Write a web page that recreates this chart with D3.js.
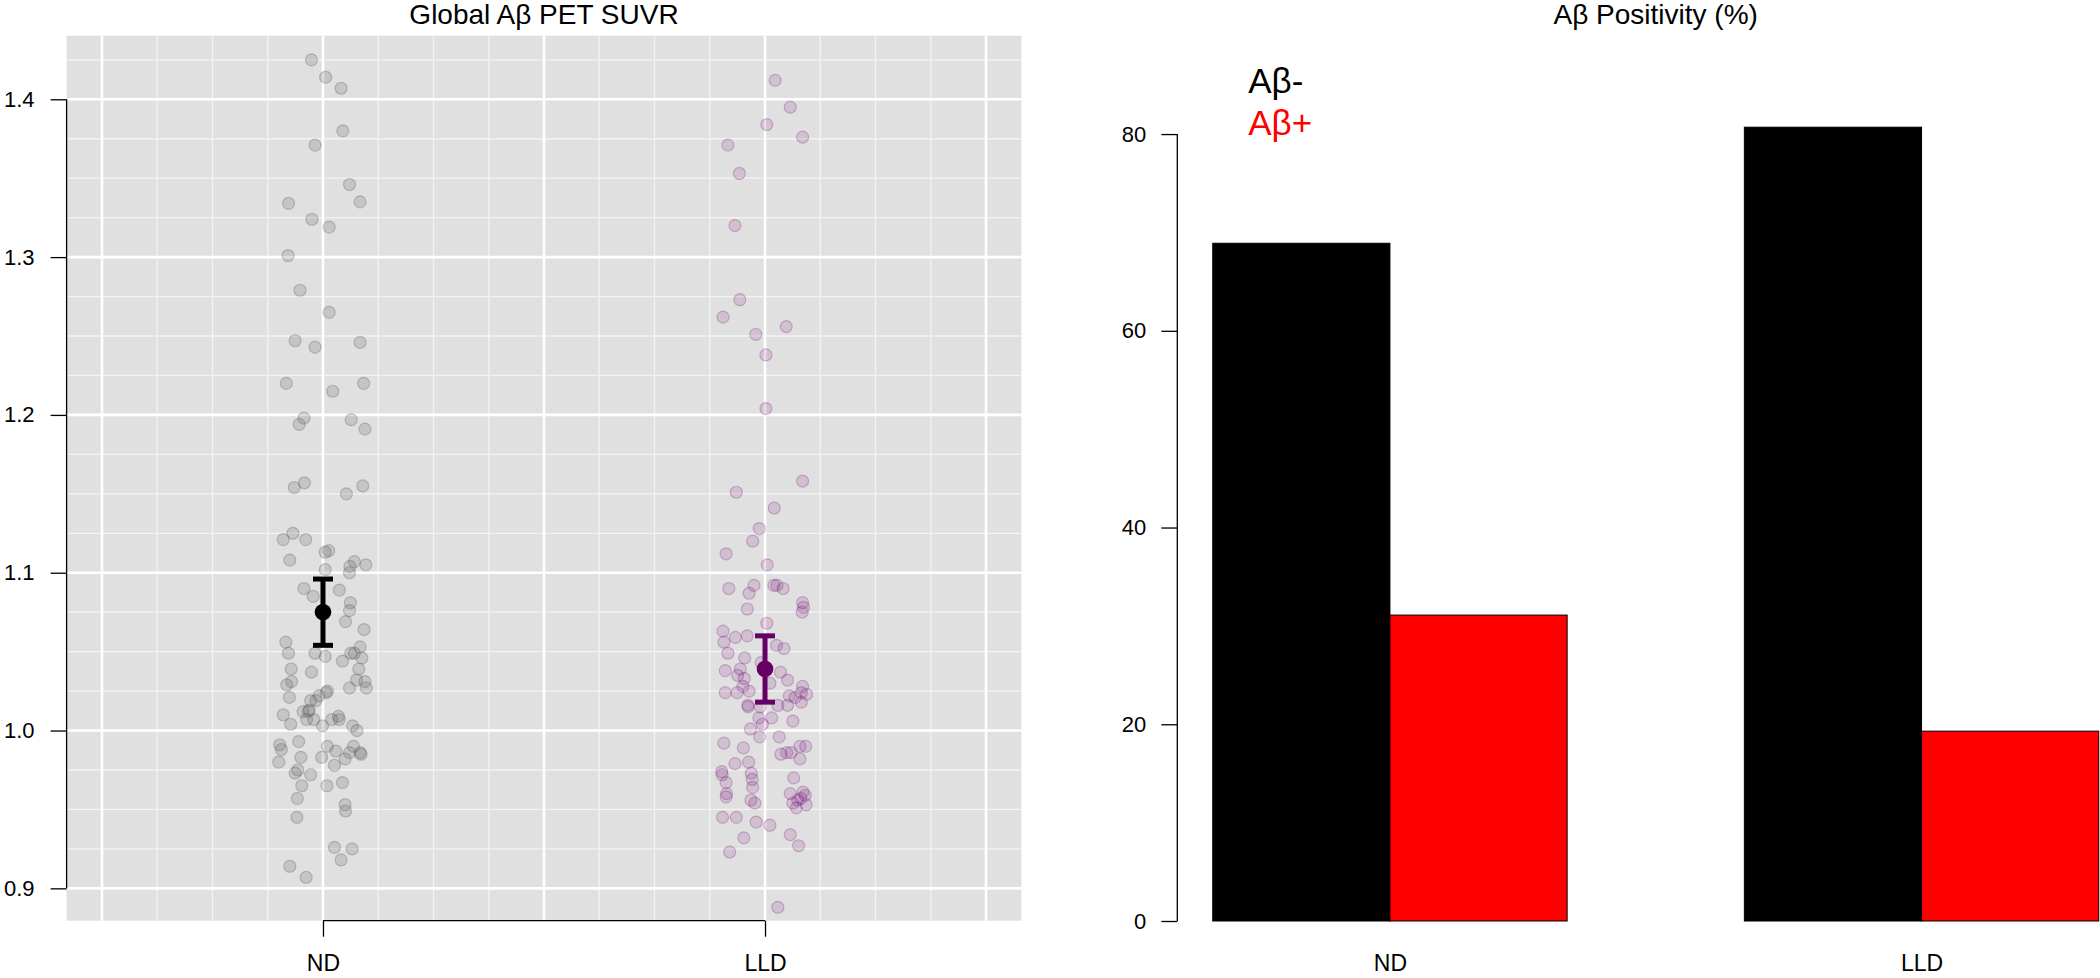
<!DOCTYPE html>
<html>
<head>
<meta charset="utf-8">
<script src="https://cdn.jsdelivr.net/npm/d3@7"></script>
<style>
    body { margin: 0; background: #fff; }
    svg text { font-family: "Liberation Sans", Arial, sans-serif; }
</style>
</head>
<body>
<div class="chart"></div>
<script>
// group names on both panels
const groups = ['ND', 'LLD'];

// jittered points: [x offset from group centre, global SUVR]
const ndPoints = [
    [-0.026, 1.425], [0.006, 1.414], [0.041, 1.407], [0.045, 1.380], [-0.018, 1.371], [0.060, 1.346], [-0.078, 1.334], [0.084, 1.335], [-0.025, 1.324], [0.014, 1.319],
    [-0.079, 1.301], [-0.052, 1.279], [0.014, 1.265], [-0.063, 1.247], [-0.018, 1.243], [0.084, 1.246], [-0.083, 1.220], [0.092, 1.220], [0.022, 1.215], [-0.043, 1.198],
    [-0.054, 1.194], [0.064, 1.197], [0.095, 1.191], [-0.042, 1.157], [-0.065, 1.154], [0.090, 1.155], [0.053, 1.150], [-0.068, 1.125], [-0.090, 1.121], [-0.039, 1.121],
    [-0.075, 1.108], [0.005, 1.113], [0.013, 1.114], [0.071, 1.107], [0.061, 1.104], [0.097, 1.105], [0.060, 1.100], [0.005, 1.102], [-0.043, 1.090], [-0.022, 1.085],
    [0.037, 1.089], [0.062, 1.081], [0.060, 1.076], [0.051, 1.069], [0.093, 1.064], [-0.084, 1.056], [-0.078, 1.049], [-0.018, 1.049], [0.005, 1.047], [0.044, 1.044],
    [0.063, 1.049], [0.071, 1.049], [0.084, 1.053], [0.088, 1.046], [-0.072, 1.039], [-0.026, 1.037], [0.081, 1.039], [-0.082, 1.029], [-0.071, 1.031], [0.076, 1.032],
    [0.095, 1.031], [0.098, 1.027], [0.060, 1.027], [-0.076, 1.021], [0.007, 1.024], [0.010, 1.025], [-0.009, 1.022], [-0.016, 1.019], [-0.028, 1.019], [-0.031, 1.013],
    [-0.045, 1.012], [-0.033, 1.012], [-0.090, 1.010], [-0.073, 1.004], [-0.037, 1.007], [-0.021, 1.007], [-0.001, 1.003], [0.020, 1.007], [0.035, 1.009], [0.037, 1.007],
    [0.067, 1.003], [0.077, 1.000], [-0.098, 0.991], [-0.094, 0.988], [-0.055, 0.993], [0.010, 0.990], [0.029, 0.987], [0.069, 0.990], [0.060, 0.986], [0.084, 0.986],
    [0.086, 0.985], [-0.100, 0.980], [-0.050, 0.983], [-0.003, 0.983], [0.050, 0.982], [0.026, 0.978], [-0.063, 0.973], [-0.057, 0.975], [-0.028, 0.972], [-0.048, 0.965],
    [0.009, 0.965], [0.044, 0.967], [-0.058, 0.957], [-0.059, 0.945], [0.050, 0.953], [0.051, 0.949], [0.026, 0.926], [0.066, 0.925], [0.041, 0.918], [-0.075, 0.914],
    [-0.038, 0.907]
];

const lldPoints = [
    [0.023, 1.412], [0.057, 1.395], [0.004, 1.384], [0.085, 1.376], [-0.084, 1.371], [-0.058, 1.353], [-0.068, 1.320], [-0.057, 1.273], [-0.095, 1.262], [0.048, 1.256],
    [-0.021, 1.251], [0.002, 1.238], [0.002, 1.204], [0.085, 1.158], [-0.065, 1.151], [0.021, 1.141], [-0.013, 1.128], [-0.028, 1.120], [-0.088, 1.112], [0.005, 1.105],
    [-0.082, 1.090], [-0.025, 1.092], [-0.036, 1.087], [0.020, 1.092], [0.027, 1.092], [0.041, 1.090], [0.085, 1.081], [0.087, 1.078], [0.084, 1.075], [-0.040, 1.077],
    [0.004, 1.068], [-0.095, 1.063], [-0.067, 1.059], [-0.040, 1.060], [-0.093, 1.056], [-0.084, 1.049], [0.026, 1.054], [0.043, 1.052], [-0.046, 1.046], [-0.009, 1.043],
    [-0.090, 1.038], [-0.056, 1.039], [-0.062, 1.035], [-0.047, 1.033], [0.035, 1.037], [0.051, 1.032], [0.011, 1.030], [-0.050, 1.028], [-0.036, 1.025], [-0.090, 1.024],
    [-0.063, 1.024], [0.085, 1.028], [0.055, 1.022], [0.068, 1.021], [0.082, 1.024], [0.094, 1.023], [0.082, 1.018], [-0.039, 1.016], [-0.011, 1.015], [0.029, 1.016],
    [0.051, 1.016], [-0.038, 1.015], [-0.014, 1.008], [0.015, 1.008], [-0.006, 1.004], [0.063, 1.006], [-0.033, 1.001], [-0.012, 0.996], [0.032, 0.996], [-0.093, 0.992],
    [-0.049, 0.989], [0.036, 0.985], [0.049, 0.986], [0.059, 0.986], [0.079, 0.990], [0.092, 0.990], [0.079, 0.982], [-0.068, 0.979], [-0.037, 0.980], [-0.098, 0.974],
    [-0.097, 0.972], [-0.031, 0.973], [-0.029, 0.969], [0.065, 0.970], [-0.088, 0.967], [-0.028, 0.964], [-0.087, 0.960], [-0.088, 0.958], [0.057, 0.960], [0.086, 0.961],
    [0.091, 0.959], [-0.032, 0.956], [-0.023, 0.954], [0.063, 0.954], [0.074, 0.956], [0.081, 0.957], [0.093, 0.953], [0.071, 0.951], [-0.096, 0.945], [-0.065, 0.945],
    [-0.020, 0.942], [0.011, 0.940], [0.057, 0.934], [-0.048, 0.932], [0.076, 0.927], [-0.080, 0.923], [0.029, 0.888]
];

// group mean and interval
const groupMean = [1.075, 1.039];
const groupLow = [1.054, 1.018];
const groupHigh = [1.096, 1.060];
const suvrTicks = [0.9, 1.0, 1.1, 1.2, 1.3, 1.4];

// amyloid status percentages
const statusLabels = ['Aβ-', 'Aβ+'];
const negPct = [68.9, 80.7];
const posPct = [31.1, 19.3];
const pctTicks = [0, 20, 40, 60, 80];

const width = 2100,
    height = 978;

const svg = d3.select('.chart')
    .append('svg')
    .attr('width', width)
    .attr('height', height);

function suvrPanel() {
    const x = d3.scaleLinear().domain([0.42, 2.58]).range([66.6, 1021.4]);
    const y = d3.scaleLinear().domain([0.8795, 1.4403]).range([920.7, 35.7]);
    const g = svg.append('g');

    g.append('rect')
        .attr('x', x.range()[0])
        .attr('y', y.range()[1])
        .attr('width', x.range()[1] - x.range()[0])
        .attr('height', y.range()[0] - y.range()[1])
        .attr('fill', '#e0e0e0');

    // minor grid first, major on top
    const xMinor = d3.range(0.5, 2.5001, 0.125),
        yMinor = d3.range(0.9, 1.4251, 0.025),
        xMajor = [0.5, 1, 1.5, 2, 2.5];

    g.selectAll('.vminor').data(xMinor).enter().append('line')
        .attr('x1', d => x(d)).attr('x2', d => x(d))
        .attr('y1', y.range()[0]).attr('y2', y.range()[1])
        .attr('stroke', '#f3f3f3').attr('stroke-width', 1.3);
    g.selectAll('.hminor').data(yMinor).enter().append('line')
        .attr('y1', d => y(d)).attr('y2', d => y(d))
        .attr('x1', x.range()[0]).attr('x2', x.range()[1])
        .attr('stroke', '#f3f3f3').attr('stroke-width', 1.3);
    g.selectAll('.vmajor').data(xMajor).enter().append('line')
        .attr('x1', d => x(d)).attr('x2', d => x(d))
        .attr('y1', y.range()[0]).attr('y2', y.range()[1])
        .attr('stroke', '#fff').attr('stroke-width', 2.6);
    g.selectAll('.hmajor').data(suvrTicks).enter().append('line')
        .attr('y1', d => y(d)).attr('y2', d => y(d))
        .attr('x1', x.range()[0]).attr('x2', x.range()[1])
        .attr('stroke', '#fff').attr('stroke-width', 2.6);

    // jittered subjects
    const pointStyle = [
        { fill: 'rgba(90,90,90,0.2)', stroke: 'rgba(90,90,90,0.3)' },
        { fill: 'rgba(110,0,110,0.14)', stroke: 'rgba(110,0,110,0.24)' }
    ];
    [ndPoints, lldPoints].forEach((pts, i) => {
        g.selectAll('.pt' + i).data(pts).enter().append('circle')
            .attr('cx', d => x(i + 1 + d[0]))
            .attr('cy', d => y(d[1]))
            .attr('r', 6)
            .attr('fill', pointStyle[i].fill)
            .attr('stroke', pointStyle[i].stroke)
            .attr('stroke-width', 1.2);
    });

    // mean with interval
    const meanColor = ['#000000', '#660066'];
    groups.forEach((name, i) => {
        const cx = x(i + 1);
        g.append('line')
            .attr('x1', cx).attr('x2', cx)
            .attr('y1', y(groupLow[i])).attr('y2', y(groupHigh[i]))
            .attr('stroke', meanColor[i]).attr('stroke-width', 5);
        [groupLow[i], groupHigh[i]].forEach(v => {
            g.append('line')
                .attr('x1', cx - 10).attr('x2', cx + 10)
                .attr('y1', y(v)).attr('y2', y(v))
                .attr('stroke', meanColor[i]).attr('stroke-width', 5);
        });
        g.append('circle')
            .attr('cx', cx).attr('cy', y(groupMean[i]))
            .attr('r', 8.3)
            .attr('fill', meanColor[i]);
    });

    // axes, R style
    const ya = g.append('g')
        .attr('transform', `translate(${x.range()[0]},0)`)
        .call(d3.axisLeft(y).tickValues(suvrTicks).tickSize(16).tickPadding(16).tickFormat(d3.format('.1f')));
    ya.select('.domain').remove();
    ya.append('line').attr('y1', y(0.9)).attr('y2', y(1.4)).attr('stroke', '#000').attr('stroke-width', 1.3);
    ya.attr('font-size', 22).attr('font-family', null);
    ya.selectAll('.tick line').attr('stroke-width', 1.3);

    const xa = g.append('g')
        .attr('transform', `translate(0,${y.range()[0]})`)
        .call(d3.axisBottom(x).tickValues([1, 2]).tickSize(16).tickPadding(18).tickFormat((d, i) => groups[i]));
    xa.select('.domain').remove();
    xa.append('line').attr('x1', x(1)).attr('x2', x(2)).attr('stroke', '#000').attr('stroke-width', 1.3);
    xa.attr('font-size', 23).attr('font-family', null);
    xa.selectAll('.tick line').attr('stroke-width', 1.3);

    g.append('text')
        .attr('x', (x.range()[0] + x.range()[1]) / 2)
        .attr('y', 23.5)
        .attr('text-anchor', 'middle')
        .attr('font-size', 28)
        .text('Global Aβ PET SUVR');
}

function positivityPanel() {
    const x = d3.scaleLinear().domain([0.8, 6.2]).range([1177.3, 2134.2]);
    const y = d3.scaleLinear().domain([0, 90]).range([921, 35.7]);
    const sub = d3.scaleBand().domain(statusLabels).range([0, 2]);
    const fills = { 'Aβ-': '#000000', 'Aβ+': '#ff0000' };
    const g = svg.append('g');

    const rows = groups.map((name, i) => ({
        name,
        start: 1 + i * 3,
        values: [{ key: 'Aβ-', v: negPct[i] }, { key: 'Aβ+', v: posPct[i] }]
    }));

    const grp = g.selectAll('.grp').data(rows).enter().append('g');
    grp.selectAll('rect').data(d => d.values.map(b => ({ ...b, start: d.start }))).enter().append('rect')
        .attr('x', d => x(d.start + sub(d.key)))
        .attr('width', d => x(d.start + sub(d.key) + sub.bandwidth()) - x(d.start + sub(d.key)))
        .attr('y', d => y(d.v))
        .attr('height', d => y(0) - y(d.v))
        .attr('fill', d => fills[d.key])
        .attr('stroke', '#000')
        .attr('stroke-width', 1);

    const ya = g.append('g')
        .attr('transform', `translate(${x.range()[0]},0)`)
        .call(d3.axisLeft(y).tickValues(pctTicks).tickSize(16).tickPadding(15));
    ya.select('.domain').remove();
    ya.append('line').attr('y1', y(0)).attr('y2', y(80)).attr('stroke', '#000').attr('stroke-width', 1.3);
    ya.attr('font-size', 22).attr('font-family', null);
    ya.selectAll('.tick line').attr('stroke-width', 1.3);

    const xa = g.append('g')
        .attr('transform', `translate(0,${y(0)})`)
        .call(d3.axisBottom(x).tickValues(rows.map(d => d.start + 1)).tickSize(0).tickPadding(34).tickFormat((d, i) => groups[i]));
    xa.select('.domain').remove();
    xa.attr('font-size', 23).attr('font-family', null);

    // legend
    statusLabels.forEach((lab, i) => {
        g.append('text')
            .attr('x', x(1.2))
            .attr('y', 93 + i * 42)
            .attr('font-size', 35)
            .attr('fill', fills[lab])
            .text(lab);
    });

    g.append('text')
        .attr('x', (x.range()[0] + x.range()[1]) / 2)
        .attr('y', 23.5)
        .attr('text-anchor', 'middle')
        .attr('font-size', 28)
        .text('Aβ Positivity (%)');
}

suvrPanel();
positivityPanel();
</script>
</body>
</html>
